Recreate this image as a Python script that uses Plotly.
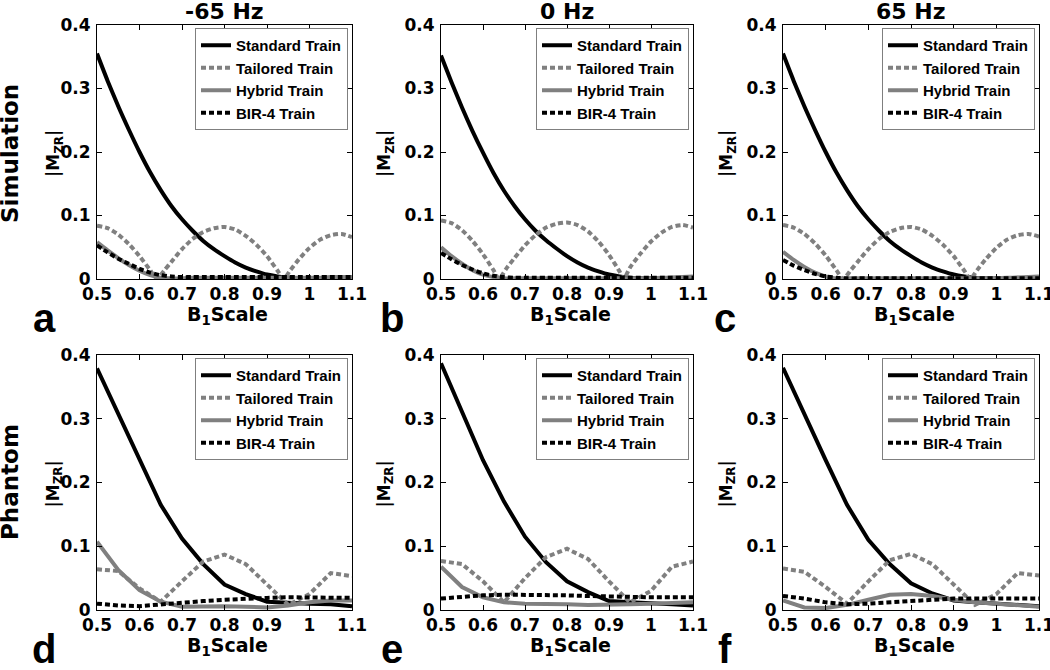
import plotly.graph_objects as go

# ---------------- data ----------------
sim_x = [0.500, 0.525, 0.550, 0.575, 0.600, 0.625, 0.650, 0.675, 0.700, 0.725,
         0.750, 0.775, 0.800, 0.825, 0.850, 0.875, 0.900, 0.925, 0.950, 0.975,
         1.000, 1.025, 1.050, 1.075, 1.100]

sim_std_m65 = [0.355, 0.312, 0.272, 0.235, 0.200, 0.168, 0.140, 0.115, 0.094, 0.076,
               0.060, 0.047, 0.036, 0.026, 0.018, 0.012, 0.007, 0.004, 0.002, 0.001,
               0.001, 0.001, 0.002, 0.002, 0.003]
sim_std_0 = [0.352, 0.310, 0.270, 0.233, 0.199, 0.167, 0.139, 0.115, 0.094, 0.076,
             0.061, 0.048, 0.036, 0.026, 0.018, 0.012, 0.007, 0.004, 0.002, 0.001,
             0.001, 0.001, 0.002, 0.002, 0.003]
sim_std_p65 = [0.355, 0.312, 0.272, 0.235, 0.200, 0.168, 0.140, 0.115, 0.094, 0.076,
               0.060, 0.047, 0.036, 0.026, 0.018, 0.012, 0.007, 0.004, 0.002, 0.001,
               0.001, 0.001, 0.002, 0.002, 0.003]

sim_hyb_m65 = [0.058, 0.045, 0.033, 0.022, 0.013, 0.006, 0.002, 0.001, 0.001, 0.002,
               0.002, 0.002, 0.002, 0.002, 0.002, 0.002, 0.002, 0.002, 0.002, 0.002,
               0.002, 0.002, 0.003, 0.003, 0.003]
sim_hyb_0 = [0.050, 0.036, 0.024, 0.014, 0.007, 0.003, 0.001, 0.001, 0.001, 0.001,
             0.001, 0.001, 0.001, 0.001, 0.001, 0.001, 0.001, 0.001, 0.001, 0.001,
             0.001, 0.002, 0.002, 0.003, 0.004]
sim_hyb_p65 = [0.043, 0.030, 0.019, 0.010, 0.004, 0.001, 0.001, 0.001, 0.001, 0.001,
               0.001, 0.001, 0.001, 0.001, 0.001, 0.001, 0.001, 0.001, 0.001, 0.001,
               0.001, 0.002, 0.002, 0.003, 0.004]

sim_bir_m65 = [0.053, 0.042, 0.032, 0.024, 0.016, 0.010, 0.006, 0.004, 0.003, 0.003,
               0.003, 0.003, 0.003, 0.003, 0.003, 0.003, 0.003, 0.003, 0.003, 0.003,
               0.003, 0.003, 0.003, 0.003, 0.003]
sim_bir_0 = [0.041, 0.031, 0.022, 0.015, 0.009, 0.005, 0.003, 0.002, 0.002, 0.002,
             0.002, 0.002, 0.002, 0.002, 0.002, 0.002, 0.002, 0.002, 0.002, 0.002,
             0.002, 0.002, 0.002, 0.002, 0.002]
sim_bir_p65 = [0.030, 0.021, 0.014, 0.008, 0.004, 0.002, 0.001, 0.001, 0.001, 0.001,
               0.001, 0.001, 0.001, 0.001, 0.001, 0.001, 0.001, 0.001, 0.001, 0.001,
               0.001, 0.001, 0.001, 0.001, 0.001]

tail_x_m65 = [0.5, 0.525, 0.55, 0.575, 0.6, 0.625, 0.641, 0.66, 0.675, 0.7, 0.725, 0.75,
              0.775, 0.8, 0.825, 0.85, 0.875, 0.9, 0.925, 0.939, 0.955, 0.975, 1.0,
              1.025, 1.05, 1.075, 1.1]
sim_tail_m65 = [0.084, 0.080, 0.070, 0.055, 0.036, 0.014, 0.000, 0.015, 0.027, 0.047,
                0.063, 0.074, 0.080, 0.082, 0.078, 0.068, 0.054, 0.036, 0.013, 0.000,
                0.014, 0.031, 0.049, 0.062, 0.069, 0.071, 0.066]
tail_x_0 = [0.5, 0.525, 0.55, 0.575, 0.6, 0.625, 0.638, 0.655, 0.675, 0.7, 0.725, 0.75,
            0.775, 0.8, 0.825, 0.85, 0.875, 0.9, 0.925, 0.935, 0.95, 0.975, 1.0,
            1.025, 1.05, 1.075, 1.1]
sim_tail_0 = [0.092, 0.088, 0.077, 0.060, 0.039, 0.014, 0.000, 0.016, 0.033, 0.053,
              0.069, 0.081, 0.087, 0.089, 0.085, 0.075, 0.059, 0.038, 0.012, 0.000,
              0.018, 0.040, 0.059, 0.073, 0.082, 0.085, 0.081]
tail_x_p65 = [0.5, 0.525, 0.55, 0.575, 0.6, 0.625, 0.641, 0.66, 0.675, 0.7, 0.725, 0.75,
              0.775, 0.8, 0.825, 0.85, 0.875, 0.9, 0.925, 0.939, 0.955, 0.975, 1.0,
              1.025, 1.05, 1.075, 1.1]
sim_tail_p65 = [0.085, 0.081, 0.071, 0.056, 0.037, 0.014, 0.000, 0.015, 0.027, 0.047,
                0.063, 0.074, 0.080, 0.082, 0.078, 0.068, 0.054, 0.036, 0.013, 0.000,
                0.014, 0.031, 0.049, 0.062, 0.069, 0.071, 0.067]

ph_x = [0.50, 0.55, 0.60, 0.65, 0.70, 0.75, 0.80, 0.85, 0.90, 0.95, 1.00, 1.05, 1.10]

ph_std_m65 = [0.379, 0.308, 0.237, 0.165, 0.112, 0.072, 0.040, 0.025, 0.013, 0.011, 0.010, 0.009, 0.006]
ph_tail_m65 = [0.064, 0.061, 0.034, 0.013, 0.045, 0.076, 0.087, 0.072, 0.040, 0.008, 0.025, 0.058, 0.053]
ph_hyb_m65 = [0.107, 0.063, 0.031, 0.013, 0.005, 0.006, 0.006, 0.005, 0.004, 0.007, 0.012, 0.015, 0.015]
ph_bir_m65 = [0.010, 0.007, 0.006, 0.009, 0.012, 0.014, 0.016, 0.018, 0.019, 0.020, 0.020, 0.019, 0.019]

ph_std_0 = [0.387, 0.310, 0.235, 0.170, 0.115, 0.075, 0.045, 0.028, 0.014, 0.012, 0.011, 0.009, 0.007]
ph_tail_0 = [0.077, 0.072, 0.045, 0.012, 0.050, 0.083, 0.096, 0.080, 0.045, 0.012, 0.030, 0.068, 0.076]
ph_hyb_0 = [0.068, 0.036, 0.020, 0.012, 0.010, 0.010, 0.009, 0.008, 0.008, 0.009, 0.010, 0.011, 0.012]
ph_bir_0 = [0.018, 0.021, 0.023, 0.024, 0.024, 0.023, 0.023, 0.022, 0.021, 0.021, 0.020, 0.020, 0.020]

ph_std_p65 = [0.380, 0.307, 0.235, 0.165, 0.110, 0.072, 0.042, 0.026, 0.015, 0.012, 0.010, 0.009, 0.006]
ph_tail_p65 = [0.065, 0.060, 0.036, 0.010, 0.045, 0.078, 0.088, 0.072, 0.040, 0.008, 0.025, 0.058, 0.054]
ph_hyb_p65 = [0.015, 0.004, 0.003, 0.008, 0.016, 0.024, 0.025, 0.022, 0.016, 0.012, 0.010, 0.008, 0.005]
ph_bir_p65 = [0.022, 0.018, 0.012, 0.009, 0.010, 0.012, 0.014, 0.016, 0.018, 0.018, 0.018, 0.018, 0.018]

series_names = ["Standard Train", "Tailored Train", "Hybrid Train", "BIR-4 Train"]
col_titles = ["-65 Hz", "0 Hz", "65 Hz"]
row_titles = ["Simulation", "Phantom"]
panel_letters = ["a", "b", "c", "d", "e", "f"]
x_tickvals = [0.5, 0.6, 0.7, 0.8, 0.9, 1.0, 1.1]
x_ticktext = ["0.5", "0.6", "0.7", "0.8", "0.9", "1", "1.1"]
y_tickvals = [0, 0.1, 0.2, 0.3, 0.4]
y_ticktext = ["0", "0.1", "0.2", "0.3", "0.4"]

# ---------------- layout helpers ----------------
W, H = 1050, 670
def px(x):
    return x / W
def py(y):
    return 1 - y / H

col_px = [(97, 352), (441, 693), (783, 1039)]
row_px = [(25, 279), (355, 610)]

styles = [
    dict(color="#000000", width=4),
    dict(color="#808080", width=4, dash="5px,3px"),
    dict(color="#808080", width=4),
    dict(color="#000000", width=4, dash="5px,3px"),
]

panels = [
    ([sim_x, tail_x_m65, sim_x, sim_x], [sim_std_m65, sim_tail_m65, sim_hyb_m65, sim_bir_m65], "spline"),
    ([sim_x, tail_x_0, sim_x, sim_x], [sim_std_0, sim_tail_0, sim_hyb_0, sim_bir_0], "spline"),
    ([sim_x, tail_x_p65, sim_x, sim_x], [sim_std_p65, sim_tail_p65, sim_hyb_p65, sim_bir_p65], "spline"),
    ([ph_x] * 4, [ph_std_m65, ph_tail_m65, ph_hyb_m65, ph_bir_m65], "linear"),
    ([ph_x] * 4, [ph_std_0, ph_tail_0, ph_hyb_0, ph_bir_0], "linear"),
    ([ph_x] * 4, [ph_std_p65, ph_tail_p65, ph_hyb_p65, ph_bir_p65], "linear"),
]

fig = go.Figure()
layout = dict(width=W, height=H, margin=dict(l=0, r=0, t=0, b=0, autoexpand=False),
              paper_bgcolor="white", plot_bgcolor="white", showlegend=True)

tick_font = dict(family="DejaVu Sans", size=17, color="black", weight="bold")
leg_font = dict(family="Liberation Sans", size=15, color="black", weight="bold")

annotations = []
for i, (xs_list, ys_list, shape) in enumerate(panels):
    r, c = divmod(i, 3)
    n = i + 1
    xa = "x" if n == 1 else f"x{n}"
    ya = "y" if n == 1 else f"y{n}"
    lg = "legend" if n == 1 else f"legend{n}"
    for k in range(4):
        if shape == "spline":
            ln = dict(shape="spline", smoothing=0.6, **styles[k])
        else:
            ln = dict(shape="linear", **styles[k])
        fig.add_trace(go.Scatter(
            x=xs_list[k], y=ys_list[k], mode="lines", name=series_names[k],
            line=ln, xaxis=xa, yaxis=ya, legend=lg))
    x0, x1 = col_px[c]
    y0, y1 = row_px[r]
    common = dict(showline=True, linecolor="black", linewidth=1, mirror="allticks",
                  ticks="inside", ticklen=5, tickwidth=1, tickcolor="black",
                  showgrid=False, zeroline=False, tickfont=tick_font, automargin=False,
                  ticklabeloverflow="allow")
    layout["xaxis" if n == 1 else f"xaxis{n}"] = dict(
        domain=[px(x0), px(x1)], range=[0.5, 1.1], anchor=ya,
        tickvals=x_tickvals, ticktext=x_ticktext, ticklabelstandoff=0, **common)
    layout["yaxis" if n == 1 else f"yaxis{n}"] = dict(
        domain=[py(y1), py(y0)], range=[0, 0.4], anchor=xa,
        tickvals=y_tickvals, ticktext=y_ticktext, ticklabelstandoff=2, **common)
    layout[lg] = dict(x=px(x1 - 4), y=py(y0 + 3), xanchor="right", yanchor="top",
                      bgcolor="white", bordercolor="#7f7f7f", borderwidth=1,
                      font=leg_font, itemwidth=30, tracegroupgap=0)
    annotations.append(dict(text="B<sub>1</sub>Scale", x=px((x0 + x1) / 2 + 3), y=py(y1 + 36),
                            xref="paper", yref="paper", showarrow=False,
                            xanchor="center", yanchor="middle",
                            font=dict(family="DejaVu Sans", size=19, color="black", weight="bold")))
    ytx = 54 if c == 0 else x0 - 56
    annotations.append(dict(text="|M<sub>ZR</sub>|", x=px(ytx), y=py((y0 + y1) / 2 + 2),
                            xref="paper", yref="paper", showarrow=False, textangle=-90,
                            xanchor="center", yanchor="middle",
                            font=dict(family="DejaVu Sans", size=17, color="black", weight="bold")))
    letter_x = [44, 392, 725][c]
    annotations.append(dict(text=panel_letters[i], x=px(letter_x), y=py(y1 + 39),
                            xref="paper", yref="paper", showarrow=False,
                            xanchor="center", yanchor="middle",
                            font=dict(family="Liberation Sans", size=40, color="black", weight="bold")))

for c, t in enumerate(col_titles):
    x0, x1 = col_px[c]
    annotations.append(dict(text=t, x=px((x0 + x1) / 2), y=py(11),
                            xref="paper", yref="paper", showarrow=False,
                            xanchor="center", yanchor="middle",
                            font=dict(family="DejaVu Sans", size=22, color="black", weight="bold")))
for r, t in enumerate(row_titles):
    annotations.append(dict(text=t, x=px(10), y=py([154, 482][r]),
                            xref="paper", yref="paper", showarrow=False, textangle=-90,
                            xanchor="center", yanchor="middle",
                            font=dict(family="DejaVu Sans", size=23, color="black", weight="bold")))

layout["annotations"] = annotations
fig.update_layout(**layout)
fig.write_html("out.html", config={"displayModeBar": False},
               post_script="document.body.style.margin='0px';")
